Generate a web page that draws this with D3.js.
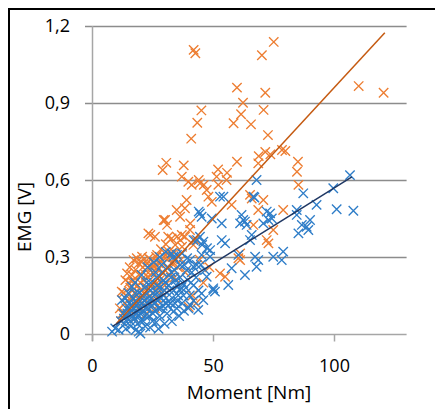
<!DOCTYPE html>
<html>
<head>
  <meta charset="utf-8">
  <title>EMG vs Moment</title>
  <script src="https://d3js.org/d3.v7.min.js"></script>
  <style>
    body { margin: 0; background: #fff; }
    text { font-family: "Open Sans", sans-serif; fill: #000; }
    .mark { fill: none; stroke-width: 1.35px; }
  </style>
</head>
<body>
  <svg id="chart" width="435" height="409"></svg>
  <script>
    // ticks
    var xTicks = [0, 50, 100];
    var yTicks = [0, 0.3, 0.6, 0.9, 1.2];

    // orange series [Moment, EMG]
    var orangePts = [
      [42.0,1.107],[42.7,1.094],[75.1,1.138],[70.2,1.086],[59.9,0.960],[71.6,0.940],[110.2,0.966],[120.5,0.940],
      [62.4,0.901],[45.2,0.871],[61.6,0.856],[70.9,0.873],[43.5,0.823],[58.5,0.821],[65.7,0.817],[41.0,0.761],
      [72.7,0.775],[78.5,0.717],[79.9,0.713],[71.6,0.709],[73.7,0.700],[68.9,0.693],[85.1,0.671],[84.7,0.632],
      [59.9,0.671],[30.7,0.667],[29.2,0.639],[37.9,0.657],[52.1,0.641],[55.8,0.628],[85.3,0.581],[37.1,0.613],
      [51.5,0.613],[55.6,0.600],[68.7,0.665],[39.8,0.593],[41.2,0.581],[44.6,0.587],[47.4,0.561],[48.1,0.535],
      [49.5,0.515],[52.2,0.581],[39.1,0.522],[38.4,0.490],[35.0,0.483],[36.4,0.457],[65.3,0.542],[66.0,0.528],
      [70.8,0.522],[68.7,0.483],[79.0,0.483],[74.9,0.405],[72.2,0.366],[72.9,0.353],[66.7,0.425],[57.7,0.503],
      [23.3,0.392],[26.0,0.379],[30.2,0.444],[31.5,0.379],[32.9,0.372],[37.1,0.386],[38.4,0.379],[40.5,0.405],
      [42.6,0.366],[41.9,0.347],[33.6,0.321],[34.3,0.295],[18.5,0.295],[22.6,0.275],[61.2,0.314],[60.5,0.295],
      [61.2,0.288],[52.9,0.236],[55.0,0.223],[40.0,0.105],[40.6,0.431],[44.1,0.600],[46.2,0.581],[29.6,0.444],
      [31.0,0.425],[24.1,0.386],[36.5,0.366],[34.4,0.347],[37.2,0.340],[23.4,0.295],[26.9,0.308],[31.7,0.321],
      [33.1,0.308],[35.1,0.379],[16.5,0.230],[17.2,0.197],[14.5,0.236],[17.2,0.288],[19.3,0.275],[20.7,0.301],
      [24.8,0.269],[27.6,0.275],[31.7,0.295],[13.5,0.12],[14.2,0.15],[15.0,0.10],[15.8,0.18],[16.4,0.14],
      [17.0,0.21],[17.6,0.16],[18.3,0.12],[18.9,0.19],[19.5,0.23],[20.2,0.17],[20.8,0.14],[21.4,0.21],
      [22.0,0.25],[22.7,0.18],[23.3,0.22],[24.0,0.15],[24.6,0.26],[25.3,0.20],[26.0,0.23],[26.6,0.17],
      [27.3,0.25],[28.0,0.21],[28.7,0.28],[29.4,0.24],[30.1,0.19],[31.0,0.26],[32.2,0.23],[33.5,0.27],
      [12.5,0.08],[14.0,0.07],[16.0,0.09],[19.0,0.10],[21.5,0.11],[23.5,0.12],[25.5,0.13],[27.0,0.14],
      [29.0,0.16],[18.0,0.25],[15.2,0.20],[20.5,0.28],[26.5,0.30],[28.5,0.33],[30.5,0.35],[32.0,0.31],
      [35.5,0.26],[36.8,0.29],[38.5,0.24],[34.0,0.22],[41.5,0.15],[43.0,0.12],[46.0,0.20],[48.5,0.26],
      [44.5,0.29],[12.0,0.05],[17.5,0.06],[22.5,0.08],[26.0,0.10],[13.0,0.16],[11.5,0.10],[12.3,0.165],
      [14.8,0.13],[16.8,0.17],[18.6,0.15],[20.0,0.20],[21.8,0.16],[23.8,0.19],[25.0,0.24],[27.8,0.19],
      [19.8,0.13],[22.3,0.23],[24.3,0.29],[26.3,0.27],[29.8,0.30],[15.6,0.26],[13.8,0.21],[21.0,0.26]
    ];

    // blue series [Moment, EMG]
    var bluePts = [
      [106.6,0.619],[68.0,0.600],[66.7,0.535],[87.3,0.548],[99.7,0.568],[92.8,0.503],[101.1,0.486],[108.0,0.480],
      [54.3,0.535],[52.9,0.535],[44.6,0.470],[45.3,0.457],[49.5,0.450],[61.8,0.464],[62.5,0.444],[61.2,0.431],
      [63.2,0.438],[63.9,0.425],[72.2,0.477],[73.6,0.470],[72.9,0.444],[70.8,0.431],[74.3,0.450],[84.6,0.483],
      [84.6,0.464],[90.1,0.444],[89.4,0.405],[86.7,0.425],[85.3,0.392],[88.7,0.418],[66.0,0.386],[65.3,0.366],
      [53.6,0.366],[55.0,0.353],[53.6,0.431],[44.6,0.379],[46.0,0.360],[74.9,0.301],[79.0,0.321],[78.4,0.288],
      [67.4,0.301],[68.7,0.288],[60.5,0.308],[32.9,0.314],[33.6,0.301],[34.3,0.288],[40.5,0.288],[48.8,0.327],
      [41.9,0.366],[67.1,0.532],[44.1,0.477],[45.5,0.347],[47.5,0.334],[43.4,0.366],[35.1,0.308],[37.2,0.314],
      [39.3,0.295],[57.7,0.256],[63.2,0.230],[56.3,0.191],[50.1,0.178],[50.8,0.165],[45.3,0.158],[46.0,0.132],
      [40.5,0.113],[39.8,0.100],[43.9,0.094],[46.7,0.249],[47.4,0.223],[48.8,0.301],[45.3,0.308],[41.9,0.262],
      [43.3,0.269],[36.4,0.269],[39.1,0.249],[36.4,0.171],[37.7,0.197],[34.3,0.120],[33.6,0.087],[9.6,0.022],
      [11.0,0.016],[8.3,0.009],[19.3,0.009],[20.0,0.002],[16.5,0.184],[17.9,0.158],[13.8,0.139],[12.4,0.132],
      [68.0,0.262],[50.1,0.171],
      [12.0,0.05],[13.0,0.08],[13.5,0.04],[14.2,0.10],[14.8,0.06],[15.5,0.12],[16.0,0.03],[16.5,0.09],
      [17.0,0.14],[17.6,0.06],[18.2,0.11],[18.8,0.04],[19.4,0.16],[20.0,0.08],[20.6,0.12],[21.2,0.05],
      [21.8,0.18],[22.4,0.10],[23.0,0.14],[23.6,0.07],[24.2,0.20],[24.8,0.11],[25.4,0.16],[26.0,0.09],
      [26.6,0.22],[27.2,0.13],[27.8,0.18],[28.4,0.10],[29.0,0.24],[29.6,0.15],[30.2,0.20],[30.8,0.12],
      [31.4,0.26],[32.0,0.17],[32.6,0.22],[33.2,0.14],[34.0,0.25],[34.8,0.19],[35.6,0.15],[36.4,0.22],
      [37.2,0.12],[38.0,0.27],[38.8,0.18],[39.6,0.21],[40.4,0.15],[41.2,0.24],[42.0,0.19],[43.0,0.22],
      [44.0,0.17],[45.0,0.27],[15.0,0.16],[17.8,0.20],[20.5,0.23],[23.0,0.26],[25.5,0.28],[28.0,0.30],
      [30.5,0.32],[22.0,0.03],[25.0,0.05],[28.0,0.07],[31.0,0.08],[27.5,0.02],[30.0,0.04],[14.0,0.02],
      [18.0,0.015],[24.0,0.025],[33.0,0.05],[36.0,0.07],[19.5,0.07],[26.5,0.045],[35.0,0.10],[38.0,0.09],
      [42.0,0.13],[31.5,0.11],
      [13.2,0.06],[14.6,0.08],[15.8,0.05],[16.9,0.07],[17.3,0.10],[18.5,0.08],[19.0,0.12],[19.8,0.10],
      [20.9,0.09],[21.5,0.13],[22.0,0.07],[22.8,0.12],[23.3,0.10],[24.5,0.14],[25.2,0.08],[25.8,0.12],
      [26.9,0.16],[27.5,0.10],[28.2,0.14],[29.2,0.11],[29.9,0.17],[30.6,0.14],[31.7,0.19],[32.3,0.12],
      [33.8,0.17],[34.5,0.21],[35.3,0.13],[36.9,0.18],[37.8,0.15],[16.2,0.11],[18.0,0.13],[21.0,0.15],
      [24.0,0.17],[27.0,0.19],[29.5,0.21],[32.8,0.24],[22.6,0.20],[26.2,0.24],[28.8,0.27],[20.3,0.05]
    ];

    // linear trend lines: [slope, intercept, xStart, xEnd]
    var orangeTrend = [0.01021, -0.062, 10, 121];
    var blueTrend = [0.00589, -0.020, 8.5, 107.4];

    var svg = d3.select("#chart");

    var x = d3.scaleLinear().domain([0, 130]).range([92, 406.6]);
    var y = d3.scaleLinear().domain([0, 1.2]).range([334, 26]);

    // outer frame
    svg.append("rect")
      .attr("x", 9).attr("y", 9)
      .attr("width", 600).attr("height", 600)
      .attr("fill", "none").attr("stroke", "#000").attr("stroke-width", 2);

    // horizontal gridlines
    svg.append("g").selectAll("line")
      .data(yTicks)
      .enter().append("line")
        .attr("x1", 85).attr("x2", x(130))
        .attr("y1", function(d) { return Math.round(y(d)) + 0.5; })
        .attr("y2", function(d) { return Math.round(y(d)) + 0.5; })
        .attr("stroke", function(d) { return d === 0 ? "#a6a6a6" : "#8c8c8c"; })
        .attr("stroke-width", 1.5);

    // y axis line
    svg.append("line")
      .attr("x1", 92.5).attr("x2", 92.5)
      .attr("y1", y(1.2)).attr("y2", y(0) + 7)
      .attr("stroke", "#a6a6a6").attr("stroke-width", 1.5);

    // x axis
    var xAxis = svg.append("g")
      .attr("transform", "translate(0," + (Math.round(y(0)) + 0.5) + ")")
      .call(d3.axisBottom(x).tickValues(xTicks).tickSize(7).tickSizeOuter(0).tickPadding(18));
    xAxis.select(".domain").remove();
    xAxis.selectAll("line").attr("stroke", "#a6a6a6").attr("stroke-width", 1.5);
    xAxis.selectAll("text").style("font-size", "18px").style("font-family", "Open Sans");

    // y axis labels
    var yAxis = svg.append("g")
      .attr("transform", "translate(92,0)")
      .call(d3.axisLeft(y).tickValues(yTicks).tickSize(0).tickPadding(22)
        .tickFormat(function(d) { return d === 0 ? "0" : d3.format(".1f")(d).replace(".", ","); }));
    yAxis.select(".domain").remove();
    yAxis.selectAll("text").style("font-size", "18px").style("font-family", "Open Sans");

    // axis titles
    svg.append("text")
      .attr("x", 249).attr("y", 399)
      .attr("text-anchor", "middle")
      .style("font-size", "19px")
      .text("Moment [Nm]");

    svg.append("text")
      .attr("transform", "translate(31,217) rotate(-90)")
      .attr("text-anchor", "middle")
      .style("font-size", "19px")
      .text("EMG [V]");

    // x-shaped markers
    var s = 4.7;
    function cross(d) {
      var cx = x(d[0]), cy = y(d[1]);
      return "M" + (cx - s) + "," + (cy - s) + "L" + (cx + s) + "," + (cy + s) +
             "M" + (cx - s) + "," + (cy + s) + "L" + (cx + s) + "," + (cy - s);
    }

    svg.append("g").selectAll("path")
      .data(orangePts)
      .enter().append("path")
        .attr("class", "mark")
        .attr("d", cross)
        .attr("stroke", "#ED7D31");

    svg.append("g").selectAll("path")
      .data(bluePts)
      .enter().append("path")
        .attr("class", "mark")
        .attr("d", cross)
        .attr("stroke", "#2E7DC8");

    // trend lines
    function trendLine(t, color) {
      svg.append("line")
        .attr("x1", x(t[2])).attr("y1", y(t[0] * t[2] + t[1]))
        .attr("x2", x(t[3])).attr("y2", y(t[0] * t[3] + t[1]))
        .attr("stroke", color).attr("stroke-width", 1.5);
    }
    trendLine(orangeTrend, "#C55A11");
    trendLine(blueTrend, "#203864");
  </script>
</body>
</html>
